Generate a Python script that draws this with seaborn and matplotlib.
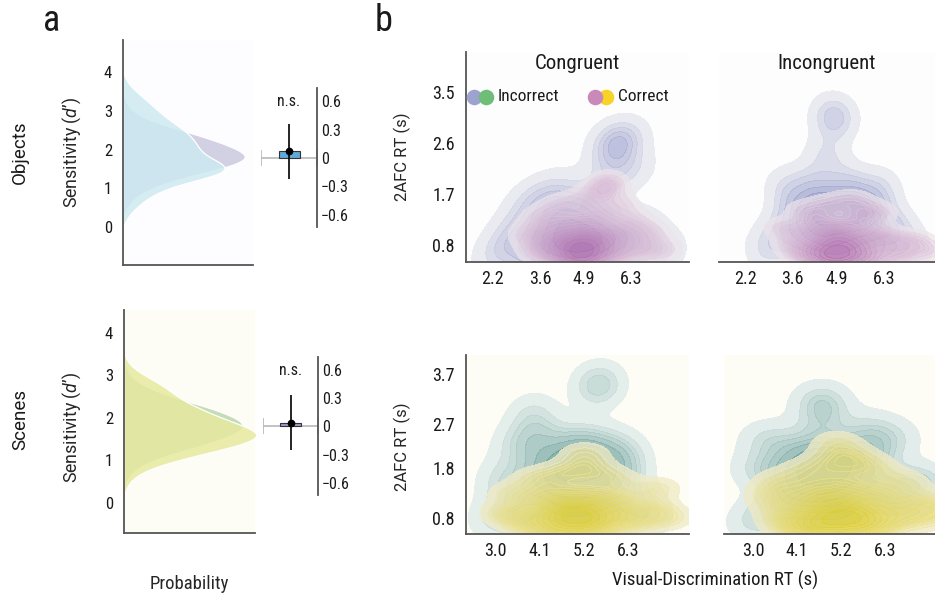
import numpy as np
import pandas as pd
import matplotlib
matplotlib.use("Agg")
import matplotlib.pyplot as plt
from matplotlib import font_manager
from matplotlib.colors import ListedColormap
import seaborn as sns

sns.set_style("white")
_names = {f.name for f in font_manager.fontManager.ttflist}
_narrow = [n for n in ("Roboto Condensed", "Liberation Sans Narrow") if n in _names]
plt.rcParams["font.family"] = _narrow + ["Roboto", "DejaVu Sans"]
plt.rcParams["font.stretch"] = "condensed"
plt.rcParams["text.color"] = "#1a1a1a"
plt.rcParams["xtick.color"] = "#1a1a1a"
plt.rcParams["ytick.color"] = "#1a1a1a"
ROT = dict(family=["Roboto", "Liberation Sans", "DejaVu Sans"], fontstretch="normal")
plt.rcParams["mathtext.fontset"] = "custom"
plt.rcParams["mathtext.it"] = "Roboto:italic"

# ---------------- panel a: sensitivity distributions ----------------
dprime_grid = [0.0, 0.2, 0.4, 0.6, 0.8, 1.0, 1.2, 1.4, 1.6, 1.8, 2.0,
               2.2, 2.4, 2.6, 2.8, 3.0, 3.2, 3.4, 3.6, 3.8, 4.0]
# relative probability of each d' value
objects_congruent = [0, 0, 2, 6, 14, 28, 50, 80, 112, 128, 116,
                     96, 72, 45, 22, 9, 3, 1, 0, 0, 0]
objects_incongruent = [0, 2, 9, 17, 27, 42, 68, 112, 108, 82, 76,
                       73, 67, 56, 44, 35, 27, 18, 8, 2, 0]
scenes_congruent = [0, 0, 1, 4, 12, 28, 55, 86, 110, 124, 113,
                    91, 62, 35, 16, 6, 2, 0, 0, 0, 0]
scenes_incongruent = [0, 0, 3, 9, 24, 52, 88, 124, 142, 122, 97,
                      78, 59, 48, 37, 20, 7, 1, 0, 0, 0]

# congruent minus incongruent sensitivity (mean, 95% CI half-width)
objects_diff_mean, objects_diff_ci = 0.07, 0.29
scenes_diff_mean, scenes_diff_ci = 0.04, 0.295
diff_ticks = [-0.6, -0.3, 0.0, 0.3, 0.6]
diff_labels = ["\u22120.6", "\u22120.3", "0", "0.3", "0.6"]
dprime_ticks = [0, 1, 2, 3, 4]

# ---------------- panel b: RT joint distributions ----------------
obj_con_inc_x = [3.5, 3.8, 4.0, 4.2, 4.3, 4.5, 4.6, 4.7, 4.8, 5.0, 5.1, 5.3, 5.5, 5.6, 3.9, 4.4,
                 2.6, 3.0, 3.2, 3.3, 5.9, 6.2, 6.5, 6.9, 7.2, 2.3, 4.0, 5.2,
                 5.7, 5.9, 6.0, 5.8, 6.3]
obj_con_inc_y = [0.7, 1.0, 0.6, 1.2, 0.8, 1.0, 0.5, 1.3, 0.8, 1.1, 0.6, 0.9, 1.2, 0.7, 1.4, 1.5,
                 0.9, 1.2, 0.6, 1.6, 1.0, 0.7, 1.1, 0.8, 0.6, 0.6, 1.8, 1.7,
                 2.2, 2.6, 2.55, 2.7, 2.1]
obj_con_cor_x = [3.5, 3.8, 4.0, 4.1, 4.3, 4.4, 4.5, 4.6, 4.7, 4.8, 4.9, 5.0, 5.1, 5.2, 5.3,
                 5.4, 5.5, 5.7, 5.9, 6.1, 6.4, 6.6, 3.2, 4.2, 5.0, 5.6, 6.9, 7.3, 3.6, 4.8,
                 5.5, 6.0]
obj_con_cor_y = [0.7, 0.9, 0.6, 1.1, 0.8, 0.5, 0.9, 0.7, 1.2, 0.6, 0.8, 1.0, 0.7, 0.5, 0.9,
                 1.3, 0.7, 1.0, 0.6, 0.9, 1.2, 0.7, 1.0, 1.5, 1.6, 1.9, 1.0, 0.7, 1.3, 0.5,
                 1.8, 1.5]

obj_inc_inc_x = [3.6, 3.9, 4.1, 4.3, 4.5, 4.7, 4.9, 5.1, 5.3, 5.5, 5.7, 5.9, 6.1, 4.4, 5.0, 5.6,
                 3.8, 6.3, 3.2, 2.8, 6.7, 7.1, 3.4, 4.2, 5.2, 6.2, 4.6, 5.4,
                 4.6, 4.8, 4.85]
obj_inc_inc_y = [1.3, 1.5, 1.1, 1.4, 1.6, 1.2, 1.4, 1.5, 1.2, 1.6, 1.3, 1.5, 1.2, 0.9, 0.8, 0.9,
                 0.8, 0.9, 1.0, 0.7, 1.1, 0.7, 1.8, 1.9, 1.9, 1.8, 0.6, 0.5,
                 2.4, 3.05, 3.05]
obj_inc_cor_x = [3.6, 3.9, 4.1, 4.3, 4.4, 4.6, 4.7, 4.8, 4.9, 5.0, 5.1, 5.2, 5.3, 5.5, 5.6,
                 5.8, 6.0, 6.2, 6.5, 6.8, 7.2, 7.6, 3.3, 4.0, 4.7, 5.4, 6.1, 4.5, 5.0, 5.7]
obj_inc_cor_y = [0.8, 0.6, 1.0, 0.7, 1.2, 0.8, 0.6, 1.0, 0.7, 0.9, 0.6, 1.1, 0.8, 0.7, 1.3,
                 0.9, 0.6, 1.0, 0.8, 0.6, 0.9, 0.7, 1.1, 1.4, 1.5, 1.6, 1.4, 0.5, 0.5, 0.5]

scn_con_inc_x = [4.2, 4.5, 4.7, 4.9, 5.0, 5.2, 5.4, 5.6, 5.8, 4.4, 5.1, 5.7, 3.8, 4.0, 6.1, 6.3,
                 3.4, 3.1, 3.5, 4.1, 3.9, 4.8, 5.3, 6.0, 6.5, 6.8, 2.9, 4.6, 5.4, 3.7,
                 5.5, 5.6]
scn_con_inc_y = [1.7, 1.9, 1.5, 2.0, 1.7, 1.8, 2.1, 1.6, 1.9, 1.3, 1.2, 1.3, 1.5, 2.1, 1.5, 1.9,
                 1.1, 1.6, 2.3, 2.5, 2.9, 2.3, 2.3, 2.2, 1.1, 0.8, 0.8, 0.8, 0.7, 0.6,
                 3.5, 3.45]
scn_con_cor_x = [3.6, 3.9, 4.1, 4.3, 4.4, 4.6, 4.7, 4.8, 4.9, 5.0, 5.1, 5.2, 5.3, 5.5, 5.6,
                 5.8, 6.0, 6.2, 6.5, 6.9, 7.3, 3.2, 3.4, 4.0, 4.7, 5.3, 5.9, 5.2, 4.5, 5.5, 7.0]
scn_con_cor_y = [0.8, 0.6, 1.1, 0.8, 1.3, 0.9, 0.6, 1.1, 0.8, 1.0, 0.7, 1.3, 0.9, 0.7, 1.1,
                 0.8, 1.2, 0.9, 0.7, 1.0, 0.8, 0.9, 1.3, 1.6, 1.7, 1.8, 1.6, 2.1, 0.5, 0.5, 1.4]

scn_inc_inc_x = [4.2, 4.4, 4.6, 4.8, 5.0, 5.2, 5.4, 5.6, 4.0, 4.5, 5.1, 5.8, 3.7, 3.9, 6.1,
                 6.3, 3.4, 3.1, 3.3, 4.7, 4.8, 4.65, 5.9, 6.5, 6.6, 3.0, 4.3, 5.3, 7.0, 7.2]
scn_inc_inc_y = [1.6, 1.9, 2.1, 1.7, 2.0, 1.6, 1.9, 2.2, 1.3, 1.3, 1.2, 1.5, 1.7, 2.2, 2.0,
                 1.4, 1.0, 1.8, 2.4, 2.6, 3.0, 3.2, 2.6, 2.4, 1.0, 0.7, 0.7, 0.8, 1.45, 1.5]
scn_inc_cor_x = [3.7, 4.0, 4.2, 4.4, 4.6, 4.7, 4.9, 5.0, 5.1, 5.2, 5.3, 5.4, 5.6, 5.7, 5.9,
                 6.1, 6.3, 6.6, 7.0, 7.4, 7.7, 3.4, 3.6, 4.3, 4.9, 5.5, 6.0, 5.1, 4.5, 5.8, 6.8]
scn_inc_cor_y = [0.8, 0.6, 1.1, 0.8, 1.3, 0.7, 1.0, 0.6, 1.2, 0.8, 1.5, 0.9, 0.7, 1.1, 0.8,
                 1.3, 0.7, 1.0, 0.8, 1.1, 0.9, 1.2, 1.5, 1.7, 1.9, 2.0, 1.8, 2.3, 0.5, 0.5, 1.5]

obj_rt_xticks = [2.2, 3.6, 4.9, 6.3]
obj_rt_yticks = [0.8, 1.7, 2.6, 3.5]
scn_rt_xticks = [3.0, 4.1, 5.2, 6.3]
scn_rt_yticks = [0.8, 1.8, 2.7, 3.7]

# ---------------- styling ----------------
SPINE = "#555555"
W, H = 935, 593
fig = plt.figure(figsize=(W / 100, H / 100), dpi=100, facecolor="white")


def box(x0, y0, x1, y1):
    """Axes rectangle from pixel corners (top-left origin)."""
    return [x0 / W, 1 - y1 / H, (x1 - x0) / W, (y1 - y0) / H]


def spines(ax, keep):
    for side in ("left", "right", "top", "bottom"):
        sp = ax.spines[side]
        sp.set_visible(side in keep)
        sp.set_color(SPINE)
        sp.set_linewidth(1.3)
    ax.tick_params(length=0)


def ramp(color, gamma):
    base = sns.light_palette(color, as_cmap=True)
    return ListedColormap(base(np.linspace(0, 1, 256) ** gamma))


def density_panel(ax, under, over, colors, ylim, px_width):
    n = len(dprime_grid)
    df = pd.DataFrame({
        "d": dprime_grid * 2,
        "w": under + over,
        "cond": ["congruent"] * n + ["incongruent"] * n,
    })
    sns.kdeplot(data=df, y="d", weights="w", hue="cond",
                hue_order=["incongruent", "congruent"],
                palette={"congruent": colors[0], "incongruent": colors[1]},
                fill=True, common_norm=True, bw_adjust=0.4, alpha=0.85,
                linewidth=0.9, edgecolor="white", legend=False, ax=ax)
    total = sum(under) + sum(over)
    step = dprime_grid[1] - dprime_grid[0]
    ax.set_xlim(0, px_width / (step * total))
    ax.set_ylim(*ylim)
    ax.set_yticks(dprime_ticks)
    ax.set_yticklabels([str(t) for t in dprime_ticks], fontsize=12)
    ax.set_xticks([])
    ax.set_xlabel("")
    ax.set_ylabel("Sensitivity ($d$\u2019)", fontsize=12.8, **ROT)
    ax.tick_params(axis="y", pad=8)
    spines(ax, ("left", "bottom"))


def diff_panel(ax, mean, ci, color):
    ax.errorbar(0, 0, xerr=1, fmt="none", ecolor="#b8b8b8", elinewidth=1.2,
                capsize=6, capthick=1.2, zorder=1)
    sns.barplot(x=[0], y=[mean], width=0.75, color=color, saturation=1,
                edgecolor="#333333", linewidth=0.8, ax=ax, zorder=2)
    ax.errorbar(0, mean, yerr=ci, fmt="o", color="black", ms=4.5,
                elinewidth=1.2, zorder=3)
    ax.set_xlim(-1, 1)
    ax.set_ylim(-0.73, 0.74)
    ax.yaxis.tick_right()
    ax.set_yticks(diff_ticks)
    ax.set_yticklabels(diff_labels, fontsize=11.5)
    ax.tick_params(axis="y", pad=3)
    ax.set_xticks([])
    ax.set_xlabel("")
    ax.set_ylabel("")
    ax.text(0, 0.6, "n.s.", ha="center", va="center", fontsize=11.5)
    ax.patch.set_alpha(0)
    spines(ax, ("right",))


def joint_panel(ax, inc, cor, colors, xlim, ylim, xticks, yticks, left_axis,
                cor_gamma=0.72, cor_alpha=0.7):
    sns.kdeplot(x=inc[0], y=inc[1], fill=True, levels=9, thresh=0.05, bw_adjust=0.75,
                cmap=ramp(colors[0], 0.9), alpha=0.78, ax=ax)
    sns.kdeplot(x=cor[0], y=cor[1], fill=True, levels=16, thresh=0.05, bw_adjust=0.75,
                cmap=ramp(colors[1], cor_gamma), alpha=cor_alpha, ax=ax)
    ax.set_xlim(*xlim)
    ax.set_ylim(*ylim)
    ax.set_xticks(xticks)
    ax.set_xticklabels([f"{t:.1f}" for t in xticks], fontsize=13)
    ax.tick_params(axis="x", pad=6)
    ax.set_xlabel("")
    if left_axis:
        ax.set_yticks(yticks)
        ax.set_yticklabels([f"{t:.1f}" for t in yticks], fontsize=13)
        ax.tick_params(axis="y", pad=8)
        ax.set_ylabel("2AFC RT (s)", fontsize=12, **ROT)
        ax.yaxis.set_label_coords(-0.245, 0.5)
        spines(ax, ("left", "bottom"))
    else:
        ax.set_yticks([])
        ax.set_ylabel("")
        spines(ax, ("bottom",))


# ---- panel a ----
ax_obj = fig.add_axes(box(123, 40, 253, 265), facecolor="#fdfdff")
density_panel(ax_obj, objects_congruent, objects_incongruent,
              ("#cbc9df", "#cde9f0"), (-0.98, 4.83), 130)
ax_obj.yaxis.set_label_coords(-0.31, 0.5)

ax_scn = fig.add_axes(box(124, 310, 255, 533), facecolor="#fdfdf5")
density_panel(ax_scn, scenes_congruent, scenes_incongruent,
              ("#bcd7ab", "#e7e99f"), (-0.71, 4.54), 131)
ax_scn.yaxis.set_label_coords(-0.31, 0.475)
ax_scn.set_xlabel("Probability", fontsize=13.5, labelpad=30)

ax_obj_d = fig.add_axes(box(261, 88, 317, 227))
diff_panel(ax_obj_d, objects_diff_mean, objects_diff_ci, "#5ea9d8")
ax_scn_d = fig.add_axes(box(263, 357, 318, 495))
diff_panel(ax_scn_d, scenes_diff_mean, scenes_diff_ci, "#9b99ca")

fig.text(20 / W, 1 - 152 / H, "Objects", rotation=90, ha="center", va="center", fontsize=13.5, **ROT)
fig.text(20 / W, 1 - 420 / H, "Scenes", rotation=90, ha="center", va="center", fontsize=13.5, **ROT)
fig.text(52 / W, 1 - 21 / H, "a", ha="center", va="center", fontsize=26)
fig.text(384 / W, 1 - 21 / H, "b", ha="center", va="center", fontsize=26)

# ---- panel b ----
OBJ_COLORS = ("#767dbd", "#b96aaa")
SCN_COLORS = ("#4a8a84", "#e0cd2a")

ax_b1 = fig.add_axes(box(465.7, 52, 689, 262), facecolor="#fdfdfe")
joint_panel(ax_b1, (obj_con_inc_x, obj_con_inc_y), (obj_con_cor_x, obj_con_cor_y),
            OBJ_COLORS, (1.4, 8.0), (0.5, 4.2), obj_rt_xticks, obj_rt_yticks, True)
ax_b2 = fig.add_axes(box(719, 52, 935, 262), facecolor="#fdfdfe")
joint_panel(ax_b2, (obj_inc_inc_x, obj_inc_inc_y), (obj_inc_cor_x, obj_inc_cor_y),
            OBJ_COLORS, (1.43, 7.8), (0.5, 4.2), obj_rt_xticks, obj_rt_yticks, False)
ax_b3 = fig.add_axes(box(466, 355, 689, 534), facecolor="#fdfdf6")
joint_panel(ax_b3, (scn_con_inc_x, scn_con_inc_y), (scn_con_cor_x, scn_con_cor_y),
            SCN_COLORS, (2.26, 7.8), (0.48, 4.08), scn_rt_xticks, scn_rt_yticks, True,
            cor_gamma=0.55, cor_alpha=0.8)
ax_b3.yaxis.set_label_coords(-0.247, 0.486)
ax_b4 = fig.add_axes(box(724, 355, 935, 534), facecolor="#fdfdf6")
joint_panel(ax_b4, (scn_inc_inc_x, scn_inc_inc_y), (scn_inc_cor_x, scn_inc_cor_y),
            SCN_COLORS, (2.27, 7.55), (0.48, 4.08), scn_rt_xticks, scn_rt_yticks, False,
            cor_gamma=0.55, cor_alpha=0.8)

ax_b1.text(0.5, 0.943, "Congruent", transform=ax_b1.transAxes, ha="center", va="center", fontsize=15)
ax_b2.text(0.5, 0.943, "Incongruent", transform=ax_b2.transAxes, ha="center", va="center", fontsize=15)
fig.text(715 / W, 1 - 580 / H, "Visual-Discrimination RT (s)", ha="center", va="center", fontsize=13.5)

# legend: paired dots for the two stimulus classes
for (xa, xb, ca, cb, label, xt, front) in [
        (0.037, 0.091, "#9ea2cf", "#6ebd78", "Incorrect", 0.142, "b"),
        (0.579, 0.628, "#c98aba", "#f6d325", "Correct", 0.680, "a")]:
    za, zb = (6, 7) if front == "b" else (7, 6)
    ax_b1.scatter([xa], [0.786], s=125, color=ca, transform=ax_b1.transAxes,
                  clip_on=False, zorder=za, linewidths=0)
    ax_b1.scatter([xb], [0.786], s=125, color=cb, transform=ax_b1.transAxes,
                  clip_on=False, zorder=zb, linewidths=0)
    ax_b1.text(xt, 0.786, label, transform=ax_b1.transAxes, ha="left", va="center",
               fontsize=12.5, zorder=8)

fig.savefig("out.png", dpi=100, facecolor="white")
